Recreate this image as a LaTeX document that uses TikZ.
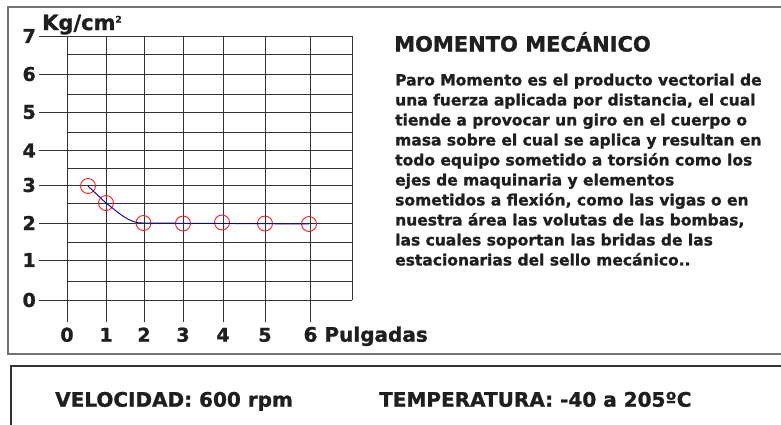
\documentclass[tikz,border=0pt]{standalone}
\usepackage{fontspec}
\setmainfont[BoldFeatures={FakeBold=1.2}]{DejaVu Sans}
\begin{document}
\begin{tikzpicture}[x=1pt,y=-1pt,
  gridline/.style={draw=black!80, line width=0.9pt},
  dot/.style={circle, draw=red!90, line width=0.9pt, minimum size=15pt, inner sep=0pt},
  curveline/.style={draw=blue!65!black, line width=0.9pt},
  lab/.style={font=\fontsize{19}{19}\selectfont\bfseries, text=black!88, inner sep=0pt},
  txt/.style={text=black!88, inner sep=0pt}
 ]
\useasboundingbox (0,0) rectangle (781,424);
\clip (0,0) rectangle (781,424);
% frames
\draw[draw=black!55, line width=1.3pt] (795,7) -- (8,7) -- (8,354) -- (795,354);
\draw[draw=black!80, line width=1.3pt] (795,366) -- (11,366) -- (11,440);
% grid
\foreach \y in {36,74,112,150.5,185,223,260,300} \draw[gridline] (39,\y) -- (352,\y);
\foreach \y in {54,94,132,168,203,242,281} \draw[gridline] (67,\y) -- (352,\y);
\foreach \x in {67,106,144,183,223,265,310} \draw[gridline] (\x,36) -- (\x,322);
\draw[gridline] (352,36) -- (352,300);
% axis labels
\foreach \y/\t [count=\i] in {36/7,74/6,112/5,150.5/4,185/3,223/2,260/1,300/0}
  \node[lab, anchor=east] (ylab\i) at (36,\y) {\t};
\foreach \x/\t [count=\i] in {67/0,106/1,144/2,183/3,223/4,265/5}
  \node[lab, anchor=base] (xlab\i) at (\x,341.7) {\t};
\node[lab, anchor=base west, font=\fontsize{20}{20}\selectfont\bfseries] (xunit) at (303.4,341.7) {6 Pulgadas};
\node[lab, anchor=base west, font=\fontsize{21}{21}\selectfont\bfseries] (yunit) at (42,30) {Kg/cm\raisebox{7.5pt}{\fontsize{9}{9}\selectfont 2}};
% data
\node[dot] (p1) at (88,186) {};
\node[dot] (p2) at (106,203) {};
\node[dot] (p3) at (143.5,223) {};
\node[dot] (p4) at (183,223.5) {};
\node[dot] (p5) at (222,222.5) {};
\node[dot] (p6) at (265,223.5) {};
\node[dot] (p7) at (309,224) {};
\draw[curveline] (p1.center) -- (p2.center) .. controls +(12,9) and +(-14,1) .. (p3.center) -- (p7.center);
% text
\node[txt, anchor=base west, font=\fontsize{21}{21}\selectfont\bfseries] (title) at (394,51.5) {MOMENTO MECÁNICO};
\node[txt, anchor=north west, align=left, font=\fontsize{15.5}{20}\selectfont\bfseries] (body) at (395,73.5) {Paro Momento es el producto vectorial de\\
una fuerza aplicada por distancia, el cual\\
tiende a provocar un giro en el cuerpo o\\
masa sobre el cual se aplica y resultan en\\
todo equipo sometido a torsión como los\\
ejes de maquinaria y elementos\\
sometidos a flexión, como las vigas o en\\
nuestra área las volutas de las bombas,\\
las cuales soportan las bridas de las\\
estacionarias del sello mecánico..};
\node[txt, anchor=base west, font=\fontsize{20}{20}\selectfont\bfseries] (vel) at (55,406.7) {VELOCIDAD: 600 rpm};
\node[txt, anchor=base west, font=\fontsize{20}{20}\selectfont\bfseries] (temp) at (379,406.7) {TEMPERATURA: -40 a 205ºC};
\end{tikzpicture}
\end{document}
